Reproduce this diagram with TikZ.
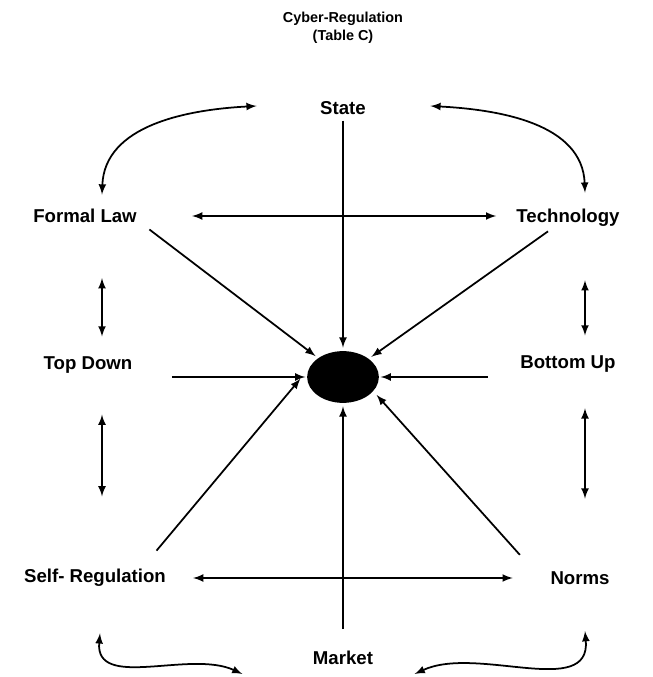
\documentclass[tikz,border=0pt]{standalone}
\usepackage{fontspec}
\setmainfont{Liberation Sans}
\usetikzlibrary{calc,shapes.geometric}
\begin{document}
\begin{tikzpicture}[
        x=0.02cm, y=0.02cm,
        >=latex,
        line width=1pt,
        label/.style={inner sep=1pt, font=\fontsize{10.6}{12}\selectfont\bfseries},
        heading/.style={inner sep=1pt, align=center, font=\fontsize{8.2}{10.5}\selectfont\bfseries},
    ]
        \useasboundingbox (0,0) rectangle (653,677);

        % Title
        \node[heading] (title) at (343, 649) {Cyber-Regulation\\(Table C)};

        % Entities
        \node[label] (state) at (343, 569) {State};
        \node[label] (formal) at (85, 461) {Formal Law};
        \node[label] (tech) at (568, 459) {Technology};
        \node[label] (topdown) at (88, 312) {Top Down};
        \node[label] (bottomup) at (568, 313) {Bottom Up};
        \node[label] (selfreg) at (95, 99) {Self- Regulation};
        \node[label] (norms) at (580, 99) {Norms};
        \node[label] (market) at (343, 19) {Market};
        \node[draw, ellipse, fill=black, minimum width=1.4cm, minimum height=1cm] (blob) at (343, 300) {};

        % Spokes into the centre
        \draw[->, shorten <=2pt, shorten >=2pt] (state) -- (blob);
        \draw[->, shorten <=11pt, shorten >=2pt] (market) -- (blob);
        \draw[->, shorten >=2pt] ($(formal.south east)+(10,-4)$) -- (blob);
        \draw[->, shorten >=2pt] ($(tech.south)+(-20,-2)$) -- (blob);
        \draw[->, shorten <=21pt, shorten >=1pt] (topdown.east |- blob.west) -- (blob.west);
        \draw[->, shorten <=17pt, shorten >=1pt] (bottomup.west |- blob.east) -- (blob.east);
        \draw[->, shorten >=8pt] ($(selfreg.north east)+(-12,16)$) -- (blob.165);
        \draw[->, shorten >=3pt] ($(norms.north west)+(-28,14)$) -- (blob.-25);

        % Horizontal links
        \draw[<->, shorten <=30pt, shorten >=10pt] (formal) -- (formal -| tech.west);
        \draw[<->, shorten <=14pt, shorten >=20pt] (selfreg) -- (norms);

        % Vertical links
        \draw[<->, shorten <=30pt, shorten >=10pt] ($(formal.south)+(17,0)$) -- ($(topdown.north)+(14,0)$);
        \draw[<->, shorten <=22pt, shorten >=40pt] ($(topdown.south)+(14,0)$) -- ($(selfreg.north)+(7,0)$);
        \draw[<->, shorten <=29pt, shorten >=10pt] ($(tech.south)+(17,0)$) -- ($(bottomup.north)+(17,0)$);
        \draw[<->, shorten <=19pt, shorten >=40pt] ($(bottomup.south)+(17,0)$) -- ($(norms.north)+(5,0)$);

        % Corner curves
        \draw[<->] ($(state.west)+(-61,2)$) to[out=183, in=88] ($(formal.north)+(17,12)$);
        \draw[<->] ($(state.east)+(62,2)$) to[out=-3, in=92] ($(tech.north)+(17,14)$);
        \draw[<->] ($(selfreg.south)+(5,-44)$) to[out=-95, in=155] ($(market.west)+(-68,-16)$);
        \draw[<->] ($(norms.south)+(5,-44)$) to[out=-85, in=25] ($(market.east)+(39,-16)$);
    \end{tikzpicture}
\end{document}
